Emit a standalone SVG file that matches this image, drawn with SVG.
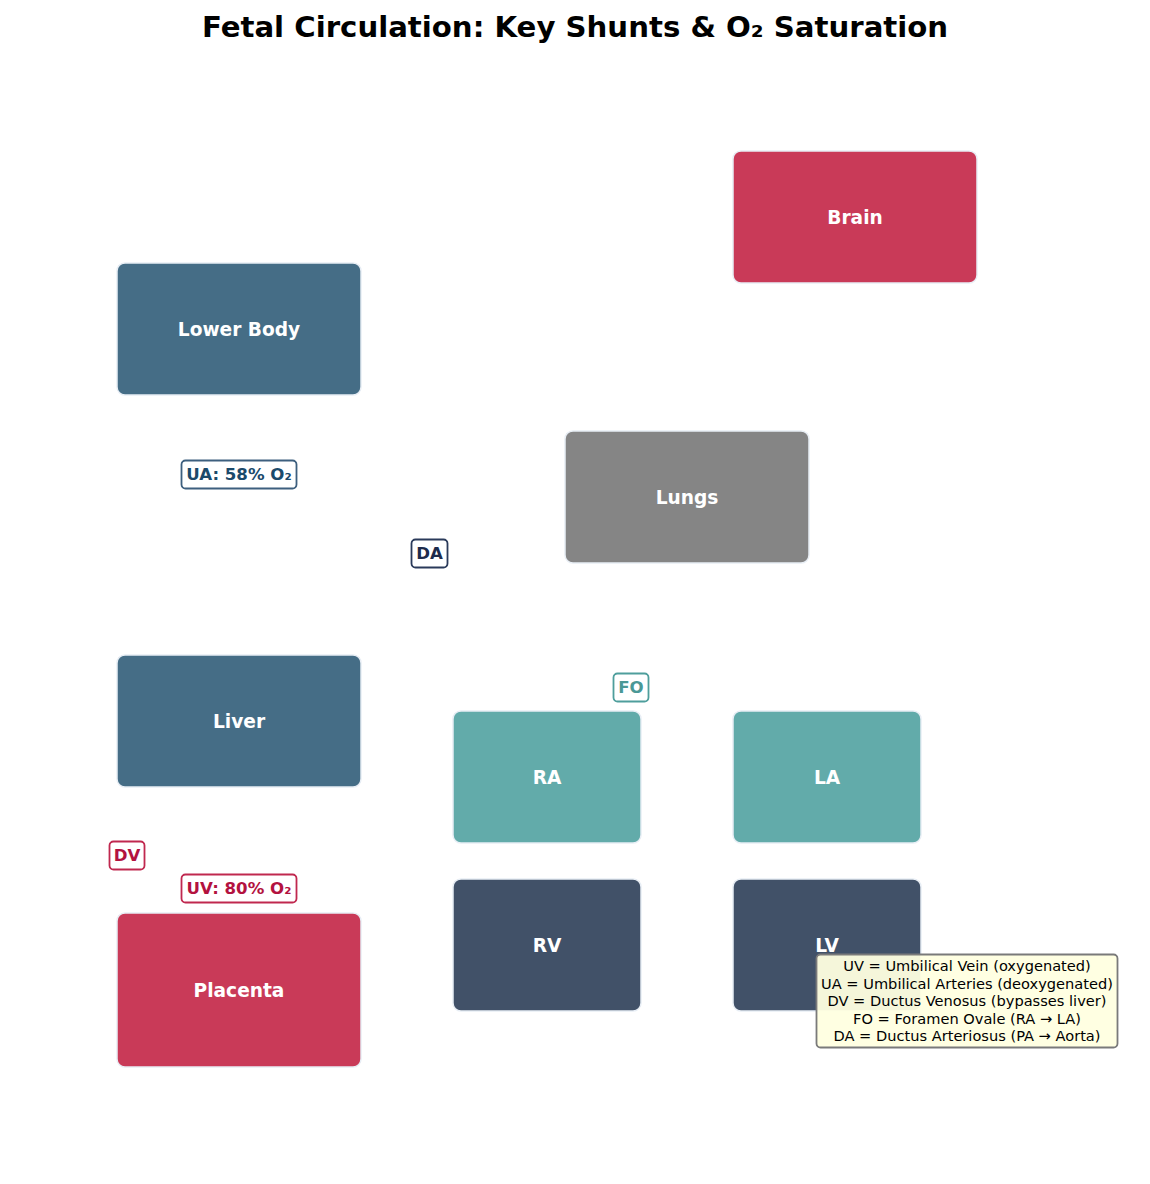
<svg xmlns="http://www.w3.org/2000/svg" width="1150" height="1184" viewBox="0 0 1150 1184">
<style>
.node{stroke:#e8eef5;stroke-width:1.5}
.nt{font-family:"DejaVu Sans",sans-serif;font-weight:bold;font-size:18.6px;fill:#ffffff;text-anchor:middle;dominant-baseline:central}
.lb{fill:#ffffff;stroke-width:1.8}
.lt{font-family:"DejaVu Sans",sans-serif;font-weight:bold;font-size:16.6px;text-anchor:middle;dominant-baseline:central}
.leg{font-family:"DejaVu Sans",sans-serif;font-size:14.6px;fill:#000000;text-anchor:middle}
</style>
<rect x="0" y="0" width="1150" height="1184" fill="#ffffff"/>
<text x="575" y="37" font-family="DejaVu Sans, sans-serif" font-weight="bold" font-size="29.2" text-anchor="middle" fill="#000000">Fetal Circulation: Key Shunts &amp; O₂ Saturation</text>
<g id="connectors"></g>
<g id="brain"><rect class="node" x="733" y="151" width="244" height="132" rx="8" fill="#c93a58"/><text class="nt" x="855" y="217">Brain</text></g>
<g id="lower-body"><rect class="node" x="117" y="263" width="244" height="132" rx="8" fill="#456d86"/><text class="nt" x="239" y="329">Lower Body</text></g>
<g id="lungs"><rect class="node" x="565" y="431" width="244" height="132" rx="8" fill="#858585"/><text class="nt" x="687" y="497">Lungs</text></g>
<g id="liver"><rect class="node" x="117" y="655" width="244" height="132" rx="8" fill="#456d86"/><text class="nt" x="239" y="721">Liver</text></g>
<g id="ra"><rect class="node" x="453" y="711" width="188" height="132" rx="8" fill="#62abaa"/><text class="nt" x="547" y="777">RA</text></g>
<g id="la"><rect class="node" x="733" y="711" width="188" height="132" rx="8" fill="#62abaa"/><text class="nt" x="827" y="777">LA</text></g>
<g id="rv"><rect class="node" x="453" y="879" width="188" height="132" rx="8" fill="#415168"/><text class="nt" x="547" y="945">RV</text></g>
<g id="lv"><rect class="node" x="733" y="879" width="188" height="132" rx="8" fill="#415168"/><text class="nt" x="827" y="945">LV</text></g>
<g id="placenta"><rect class="node" x="117" y="913" width="244" height="154" rx="8" fill="#c93a58"/><text class="nt" x="239" y="990">Placenta</text></g>
<g id="label-ua"><rect class="lb" x="181.5" y="460.5" width="115" height="28" rx="4" stroke="#3d5f7e"/><text class="lt" x="239" y="474.5" fill="#1b4a6b">UA: 58% O₂</text></g>
<g id="label-da"><rect class="lb" x="411.5" y="539.5" width="36" height="28" rx="4" stroke="#2a3a5a"/><text class="lt" x="429.5" y="553.5" fill="#1d2b4c">DA</text></g>
<g id="label-fo"><rect class="lb" x="613.5" y="673.5" width="35" height="28" rx="4" stroke="#4e9e9c"/><text class="lt" x="631" y="687.5" fill="#4a9896">FO</text></g>
<g id="label-dv"><rect class="lb" x="109.5" y="841.5" width="35" height="28" rx="4" stroke="#c0284f"/><text class="lt" x="127" y="855.5" fill="#b3123f">DV</text></g>
<g id="label-uv"><rect class="lb" x="181.5" y="874.5" width="115" height="28" rx="4" stroke="#c0284f"/><text class="lt" x="239" y="888.5" fill="#b3123f">UV: 80% O₂</text></g>
<g id="legend"><rect x="816.5" y="954.5" width="301" height="93" rx="4" fill="#ffffe0" fill-opacity="0.95" stroke="#7a7a7a" stroke-width="1.8"/>
<text class="leg" x="967" y="971">UV = Umbilical Vein (oxygenated)</text>
<text class="leg" x="967" y="988.5">UA = Umbilical Arteries (deoxygenated)</text>
<text class="leg" x="967" y="1006">DV = Ductus Venosus (bypasses liver)</text>
<text class="leg" x="967" y="1023.5">FO = Foramen Ovale (RA → LA)</text>
<text class="leg" x="967" y="1041">DA = Ductus Arteriosus (PA → Aorta)</text>
</g>
</svg>
